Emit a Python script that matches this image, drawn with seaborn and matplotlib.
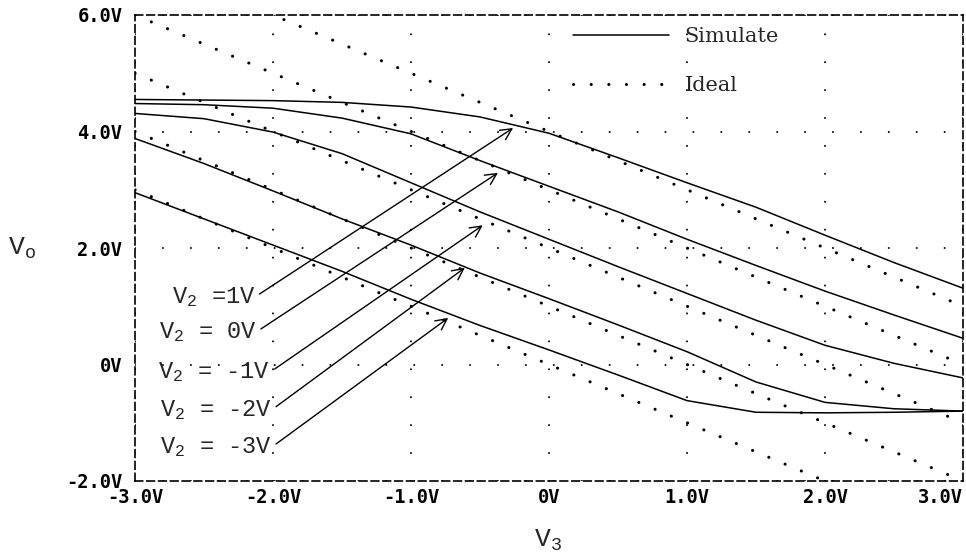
import matplotlib
matplotlib.use("Agg")
import matplotlib.pyplot as plt
import pandas as pd
import seaborn as sns
from matplotlib.lines import Line2D

# V3 sweep (volts)
v3 = [-3.0, -2.5, -2.0, -1.5, -1.0, -0.5, 0.0, 0.5, 1.0, 1.5, 2.0, 2.5, 3.0]

# Simulated output Vo for each V2 setting
vo_v2_p1 = [4.55, 4.54, 4.53, 4.50, 4.42, 4.25, 3.97, 3.55, 3.12, 2.70, 2.22, 1.75, 1.31]
vo_v2_0 = [4.48, 4.46, 4.40, 4.23, 3.96, 3.50, 3.06, 2.62, 2.15, 1.70, 1.26, 0.85, 0.45]
vo_v2_m1 = [4.31, 4.22, 3.99, 3.62, 3.12, 2.62, 2.15, 1.68, 1.22, 0.76, 0.33, 0.02, -0.23]
vo_v2_m2 = [3.88, 3.45, 2.98, 2.50, 2.05, 1.57, 1.13, 0.68, 0.22, -0.30, -0.65, -0.76, -0.80]
vo_v2_m3 = [2.95, 2.50, 2.05, 1.60, 1.12, 0.67, 0.25, -0.18, -0.62, -0.82, -0.83, -0.82, -0.80]

# Ideal transfer lines, given by their values at V3 = -3 V and V3 = +3 V
ideal_v3 = [-3.0, 3.0]
ideal_left = [7.0, 6.0, 5.0, 4.0, 3.0]
ideal_right = [1.0, 0.0, -1.0, -2.0, -3.0]

v2_values = ["1V", "0V", "-1V", "-2V", "-3V"]
v2_text = [r"$\mathrm{V}_\mathrm{2}$ =1V", r"$\mathrm{V}_\mathrm{2}$ = 0V",
           r"$\mathrm{V}_\mathrm{2}$ = -1V", r"$\mathrm{V}_\mathrm{2}$ = -2V",
           r"$\mathrm{V}_\mathrm{2}$ = -3V"]

# label anchor (V3, Vo) and the point on each curve the arrow points to
label_at = [(-2.13, 1.16), (-2.12, 0.56), (-2.02, -0.13), (-2.01, -0.78), (-2.01, -1.42)]
arrow_to = [(-0.26, 4.06), (-0.37, 3.29), (-0.48, 2.39), (-0.61, 1.66), (-0.73, 0.80)]

xticks = [-3, -2, -1, 0, 1, 2, 3]
xtick_labels = ["-3.0V", "-2.0V", "-1.0V", "0V", "1.0V", "2.0V", "3.0V"]
yticks = [-2, 0, 2, 4, 6]
ytick_labels = ["-2.0V", "0V", "2.0V", "4.0V", "6.0V"]

sns.set_style("white")
plt.rcParams["lines.scale_dashes"] = False
plt.rcParams["font.family"] = ["DejaVu Sans"]
plt.rcParams["mathtext.fontset"] = "custom"
plt.rcParams["mathtext.rm"] = "Liberation Mono"
plt.rcParams["mathtext.it"] = "Liberation Mono:italic"
plt.rcParams["mathtext.bf"] = "Liberation Mono:bold"

sim = pd.DataFrame({
    "V3": v3 * 5,
    "Vo": vo_v2_p1 + vo_v2_0 + vo_v2_m1 + vo_v2_m2 + vo_v2_m3,
    "V2": sum([[v] * len(v3) for v in v2_values], []),
})
ideal = pd.DataFrame({
    "V3": ideal_v3 * 5,
    "Vo": sum([[a, b] for a, b in zip(ideal_left, ideal_right)], []),
    "V2": sum([[v] * 2 for v in v2_values], []),
})

fig = plt.figure(figsize=(9.66, 5.59), dpi=100)
ax = fig.add_axes([135 / 966, 1 - 481 / 559, 828 / 966, 466 / 559])

dot_style = (0, (0.1, 12.6))
black5 = ["black"] * 5

sns.lineplot(data=ideal, x="V3", y="Vo", hue="V2", palette=black5, legend=False,
             linewidth=2.2, linestyle=dot_style, dash_capstyle="round", ax=ax)
sns.lineplot(data=sim, x="V3", y="Vo", hue="V2", palette=black5, legend=False,
             linewidth=1.1, ax=ax)

ax.set_xlim(-3, 3)
ax.set_ylim(-2, 6)
ax.set_axisbelow(True)
ax.grid(True, color="black", linestyle=(0, (0.1, 20)), linewidth=1.4,
        dash_capstyle="round")

for s in ax.spines.values():
    s.set_linestyle((0, (5.5, 3)))
    s.set_linewidth(1.2)
    s.set_color("black")

tick_font = dict(family="DejaVu Sans Mono", weight="bold", size=13.5)
ax.set_xticks(xticks)
ax.set_xticklabels(xtick_labels, fontdict=tick_font)
ax.get_xticklabels()[-1].set_horizontalalignment("right")
ax.set_yticks(yticks)
ax.set_yticklabels(ytick_labels, fontdict=tick_font)
ax.tick_params(axis="y", direction="out", length=6, width=1, pad=3, colors="black")
ax.tick_params(axis="x", direction="in", length=4, width=1, pad=5, colors="black")
ax.set_xlabel("")
ax.set_ylabel("")

for txt, (tx, ty), (hx, hy) in zip(v2_text, label_at, arrow_to):
    ax.annotate(txt, xy=(hx, hy), xytext=(tx, ty), ha="right", va="center",
                fontsize=17, family="Liberation Mono",
                arrowprops=dict(arrowstyle="->", color="black", lw=1.0,
                                shrinkA=1, shrinkB=0, relpos=(1.0, 0.5),
                                mutation_scale=20))

handles = [Line2D([], [], color="black", linewidth=1.1),
           Line2D([], [], color="black", linewidth=2.2, linestyle=dot_style,
                  dash_capstyle="round")]
ax.legend(handles, ["Simulate", "Ideal"], loc="upper left",
          bbox_to_anchor=((573 - 135) / 828, (481 - 27) / 466),
          frameon=False, handlelength=4.6, handletextpad=0.75,
          labelspacing=1.45, borderpad=0, borderaxespad=0,
          prop=dict(family="DejaVu Serif", size=15))

fig.text(8 / 966, 1 - 248 / 559, r"$\mathrm{V}_\mathrm{o}$", fontsize=19,
         ha="left", va="center")
fig.text(548 / 966, 1 - 540 / 559, r"$\mathrm{V}_\mathrm{3}$", fontsize=19,
         ha="center", va="center")

fig.savefig("out.png", dpi=100)
